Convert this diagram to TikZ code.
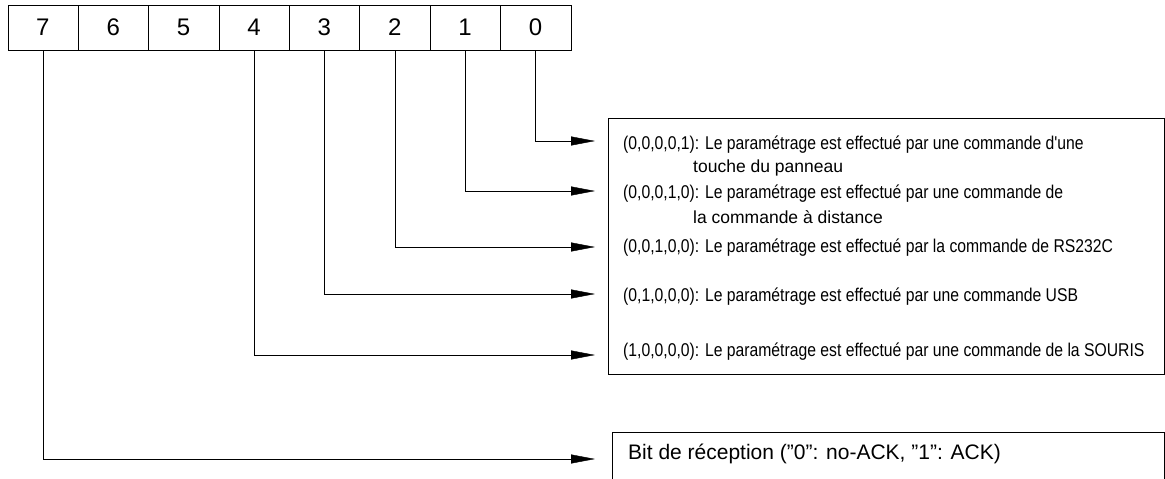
\documentclass[tikz,border=0pt]{standalone}
\usepackage{fontspec}
\setmainfont{Liberation Sans}
\newfontfamily\narrowfont{Liberation Sans}[FakeStretch=0.85]
\usetikzlibrary{arrows.meta}
% straight ASCII quote marks
\newcommand{\sq}{\symbol{39}}
\newcommand{\dq}{\symbol{34}}
\tikzset{
  x=1pt, y=-1pt,
  line width=1.25pt,
  bitcell/.style={draw, minimum width=70.375pt, minimum height=45pt,
    inner sep=0pt, outer sep=0pt, font=\fontsize{24}{24}\selectfont},
  feed/.style={-{Triangle[length=24pt,width=9pt]}},
  codeline/.style={anchor=west, inner sep=0pt, font=\narrowfont\fontsize{18.5}{20}\selectfont},
  moreline/.style={anchor=west, inner sep=0pt, font=\fontsize{17.5}{20}\selectfont},
  plainline/.style={anchor=west, inner sep=0pt, font=\fontsize{21}{24}\selectfont},
}
\begin{document}
\begin{tikzpicture}
\useasboundingbox (0,0) rectangle (1165,479);

% register: bit 7 on the left, bit 0 on the right
\foreach \b [count=\i from 0] in {7,6,5,4,3,2,1,0}
  \node[bitcell] (c\b) at ({7.7+35.19+70.375*\i},27.5) {\b};

% source-select explanation box
\node[draw, minimum width=556.3pt, minimum height=256pt, inner sep=0pt]
  (srcbox) at (885.85,246) {};
\node[codeline] (l0) at (623,145) {(0,0,0,0,1): Le paramétrage est effectué par une commande d\sq une};
\node[moreline] (l0b) at (693,168) {touche du panneau};
\node[codeline] (l1) at (623,194) {(0,0,0,1,0): Le paramétrage est effectué par une commande de};
\node[moreline] (l1b) at (693,217) {la commande à distance};
\node[codeline] (l2) at (623,248) {(0,0,1,0,0): Le paramétrage est effectué par la commande de RS232C};
\node[codeline] (l3) at (623,297) {(0,1,0,0,0): Le paramétrage est effectué par une commande USB};
\node[codeline] (l4) at (623,352) {(1,0,0,0,0): Le paramétrage est effectué par une commande de la SOURIS};

% acknowledge box, running past the lower edge
\coordinate (ackbl) at (611.7,485);
\coordinate (acktr) at (1164,432);
\draw (ackbl) |- (acktr) -- (1164,485);
\node[plainline] (ack) at (628,454) {Bit de réception (\dq 0\dq: no-ACK, \dq 1\dq: ACK)};

% arrow tips
\coordinate (t0) at (595,141);
\coordinate (t1) at (595,191);
\coordinate (t2) at (595,247);
\coordinate (t3) at (595,294);
\coordinate (t4) at (595,355);
\coordinate (t7) at (595,459);

\foreach \b in {0,1,2,3,4,7}
  \draw[feed] (c\b.south) |- (t\b);
\end{tikzpicture}
\end{document}
